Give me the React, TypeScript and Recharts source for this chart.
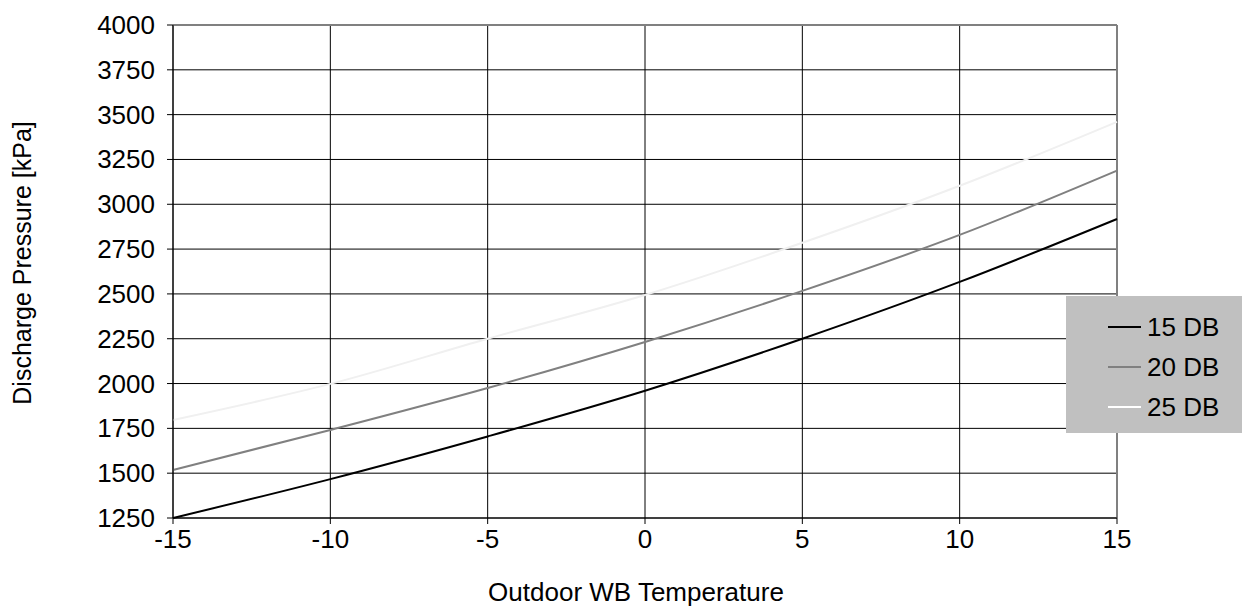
import React from "react";
import {
  LineChart,
  Line,
  XAxis,
  YAxis,
  CartesianGrid,
  ReferenceLine,
} from "recharts";

const temps = [-15, -10, -5, 0, 5, 10, 15];
const db15 = [1250, 1467, 1705, 1960, 2250, 2567, 2918];
const db20 = [1518, 1741, 1975, 2232, 2517, 2829, 3188];
const db25 = [1797, 1998, 2250, 2494, 2785, 3103, 3460];
const xTicks = [-15, -10, -5, 0, 5, 10, 15];
const yTicks = [1250, 1500, 1750, 2000, 2250, 2500, 2750, 3000, 3250, 3500, 3750, 4000];

const seriesNames = ["15 DB", "20 DB", "25 DB"];
const seriesColors = ["#000000", "#808080", "#FFFFFF"];
const lineColors = ["#000000", "#808080", "#F0F0F0"];

const data = temps.map((t, i) => ({ t, s15: db15[i], s20: db20[i], s25: db25[i] }));

const FONT = "'Liberation Sans', Arial, sans-serif";
const FS = 26;

const XTick = (props: any) => {
  const { x, payload } = props;
  return (
    <text x={x} y={531} textAnchor="middle" dominantBaseline="central" fill="#000" fontSize={FS} fontFamily={FONT}>
      {payload.value}
    </text>
  );
};

const YTick = (props: any) => {
  const { y, payload } = props;
  return (
    <text x={147} y={y} textAnchor="end" dominantBaseline="central" fill="#000" fontSize={FS} fontFamily={FONT}>
      {payload.value}
    </text>
  );
};

const YLabel = () => (
  <text
    x={14}
    y={255}
    transform="rotate(-90,14,255)"
    textAnchor="middle"
    dominantBaseline="central"
    fill="#000"
    fontSize={25}
    fontFamily={FONT}
  >
    Discharge Pressure [kPa]
  </text>
);

const XLabel = () => (
  <text x={628} y={584} textAnchor="middle" dominantBaseline="central" fill="#000" fontSize={FS} fontFamily={FONT}>
    Outdoor WB Temperature
  </text>
);

const LegendBox = () => (
  <div
    style={{
      position: "absolute",
      left: 1058,
      top: 288,
      background: "#C0C0C0",
      width: 184,
      height: 137,
      fontFamily: FONT,
      fontSize: FS,
      color: "#000",
    }}
  >
    {seriesNames.map((n, i) => (
      <div
        key={n}
        style={{ position: "absolute", left: 0, top: 31 + i * 40 - 20, height: 40, display: "flex", alignItems: "center" }}
      >
        <div style={{ marginLeft: 42, width: 33, height: 0, borderTop: `2px solid ${seriesColors[i]}`, marginRight: 6 }} />
        <span style={{ lineHeight: "40px" }}>{n}</span>
      </div>
    ))}
  </div>
);

export default function App() {
  return (
    <div style={{ position: "relative", width: 1242, height: 598, background: "#fff" }}>
      <LineChart
        width={1242}
        height={598}
        data={data}
        margin={{ top: 17, right: 133, left: 0, bottom: 28 }}
      >
        <CartesianGrid stroke="#000" strokeWidth={1} />
        <XAxis
          dataKey="t"
          type="number"
          domain={[-15, 15]}
          ticks={xTicks}
          height={60}
          tickSize={6}
          stroke="#000"
          tick={<XTick />}
          tickLine={{ stroke: "#000" }}
          label={{ content: () => <XLabel /> }}
        />
        <YAxis
          type="number"
          domain={[1250, 4000]}
          ticks={yTicks}
          width={165}
          tickSize={6}
          stroke="#000"
          interval={0}
          tick={<YTick />}
          tickLine={{ stroke: "#000" }}
          label={{ content: () => <YLabel /> }}
        />
        <ReferenceLine y={4000} stroke="#808080" strokeWidth={2} />
        <ReferenceLine x={15} stroke="#808080" strokeWidth={2} />
        <Line type="monotone" dataKey="s15" name={seriesNames[0]} stroke={lineColors[0]} strokeWidth={2} dot={false} isAnimationActive={false} />
        <Line type="monotone" dataKey="s20" name={seriesNames[1]} stroke={lineColors[1]} strokeWidth={2} dot={false} isAnimationActive={false} />
        <Line type="monotone" dataKey="s25" name={seriesNames[2]} stroke={lineColors[2]} strokeWidth={2} dot={false} isAnimationActive={false} />
      </LineChart>
      <LegendBox />
    </div>
  );
}
